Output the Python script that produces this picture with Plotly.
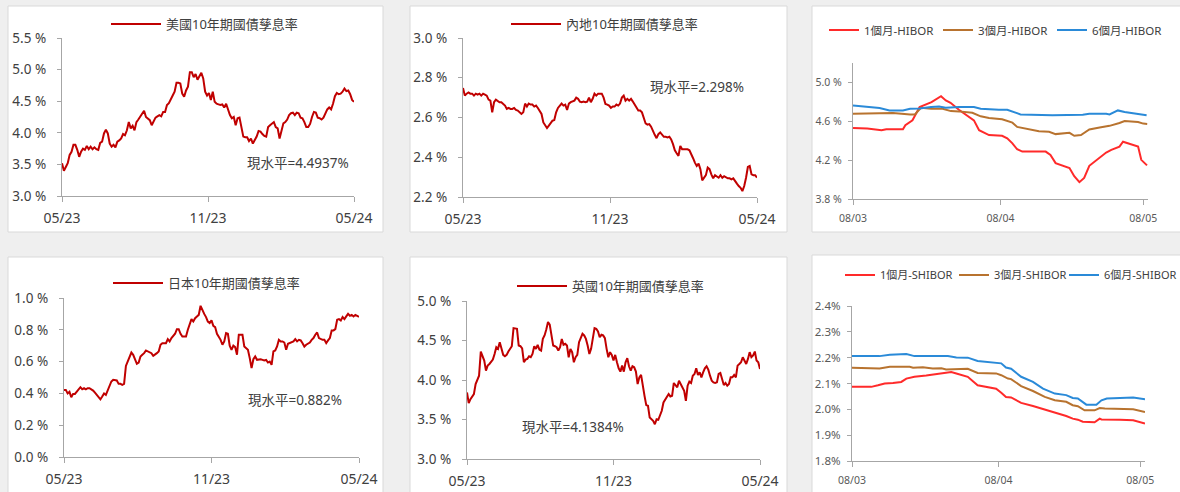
import pandas as pd
import plotly.graph_objects as go

# ---------------- data ----------------
bond_start, bond_end = "2023-05-10", "2024-05-10"
bond_tick_vals = ["2023-05-10", "2023-11-09", "2024-05-10"]
bond_tick_text = ["05/23", "11/23", "05/24"]

us_10y = [3.52,3.40,3.46,3.52,3.65,3.70,3.81,3.81,3.73,3.62,3.70,3.75,3.73,3.79,3.74,3.78,3.74,3.77,3.74,3.73,
          3.84,3.86,3.99,4.05,3.99,3.83,3.78,3.81,3.77,3.86,3.88,3.91,3.98,3.96,4.04,4.17,4.07,4.11,4.04,4.17,
          4.21,4.26,4.31,4.35,4.25,4.23,4.20,4.12,4.17,4.24,4.26,4.28,4.26,4.33,4.33,4.44,4.47,4.54,4.59,4.65,
          4.79,4.79,4.78,4.62,4.57,4.67,4.73,4.96,4.96,4.88,4.93,4.84,4.91,4.95,4.86,4.65,4.59,4.63,4.52,4.65,
          4.49,4.46,4.45,4.44,4.45,4.40,4.46,4.36,4.28,4.23,4.25,4.12,4.23,4.24,4.09,3.94,3.93,3.93,3.87,3.91,
          3.83,3.88,3.94,4.03,4.02,3.98,3.95,3.94,4.09,4.12,4.14,4.17,4.09,4.07,3.91,4.04,4.15,4.17,4.21,4.28,
          4.31,4.32,4.28,4.32,4.31,4.24,4.23,4.17,4.09,4.09,4.14,4.25,4.33,4.32,4.24,4.23,4.21,4.24,4.32,4.37,
          4.40,4.37,4.46,4.58,4.63,4.61,4.62,4.65,4.70,4.66,4.67,4.61,4.52,4.49]

cn_10y = [2.749,2.71,2.72,2.726,2.72,2.72,2.71,2.72,2.715,2.72,2.71,2.72,2.715,2.71,2.69,2.685,2.626,2.677,2.69,2.685,
          2.677,2.677,2.67,2.66,2.643,2.648,2.643,2.643,2.648,2.638,2.635,2.626,2.618,2.626,2.67,2.655,2.67,2.665,2.665,2.655,
          2.66,2.648,2.635,2.618,2.575,2.559,2.547,2.559,2.575,2.584,2.587,2.626,2.648,2.66,2.67,2.66,2.665,2.638,2.67,2.677,
          2.68,2.685,2.70,2.694,2.68,2.677,2.68,2.677,2.68,2.70,2.677,2.694,2.72,2.71,2.72,2.72,2.72,2.70,2.668,2.665,
          2.66,2.648,2.655,2.655,2.665,2.66,2.67,2.70,2.71,2.685,2.694,2.685,2.694,2.68,2.668,2.65,2.635,2.635,2.626,2.597,
          2.57,2.564,2.567,2.554,2.53,2.513,2.496,2.516,2.525,2.513,2.503,2.503,2.50,2.503,2.49,2.466,2.435,2.42,2.407,2.457,
          2.44,2.44,2.44,2.44,2.435,2.41,2.395,2.373,2.356,2.368,2.34,2.284,2.297,2.31,2.348,2.34,2.314,2.294,2.31,2.305,
          2.297,2.31,2.297,2.305,2.297,2.294,2.294,2.289,2.294,2.277,2.267,2.255,2.246,2.23,2.255,2.297,2.351,2.356,2.314,2.31,
          2.31,2.298]

jp_10y = [0.422,0.422,0.40,0.41,0.376,0.397,0.397,0.41,0.426,0.439,0.426,0.433,0.426,0.433,0.433,0.426,0.418,0.405,0.391,0.376,
          0.363,0.38,0.40,0.391,0.422,0.454,0.475,0.485,0.485,0.481,0.46,0.46,0.454,0.46,0.573,0.60,0.632,0.657,0.643,0.611,
          0.586,0.594,0.632,0.643,0.653,0.67,0.664,0.657,0.653,0.636,0.643,0.653,0.664,0.706,0.716,0.716,0.716,0.741,0.727,0.748,
          0.762,0.775,0.804,0.804,0.775,0.758,0.758,0.758,0.80,0.838,0.867,0.852,0.873,0.884,0.894,0.951,0.922,0.90,0.88,0.852,
          0.842,0.859,0.825,0.817,0.775,0.758,0.737,0.706,0.727,0.779,0.775,0.70,0.674,0.70,0.691,0.643,0.769,0.769,0.769,0.695,
          0.685,0.674,0.622,0.559,0.615,0.632,0.611,0.615,0.615,0.611,0.607,0.611,0.594,0.60,0.58,0.664,0.67,0.695,0.737,0.727,
          0.727,0.72,0.674,0.712,0.716,0.72,0.727,0.741,0.727,0.737,0.733,0.716,0.695,0.706,0.716,0.72,0.737,0.748,0.769,0.783,
          0.748,0.741,0.737,0.737,0.716,0.733,0.748,0.796,0.796,0.804,0.863,0.867,0.859,0.88,0.867,0.884,0.90,0.888,0.894,0.884,
          0.894,0.888,0.882]

uk_10y = [3.843,3.708,3.758,3.80,3.822,3.949,4.013,4.055,4.36,4.31,4.246,4.119,4.182,4.203,4.233,4.258,4.33,4.415,4.394,4.479,
          4.40,4.318,4.30,4.318,4.36,4.40,4.428,4.657,4.648,4.648,4.436,4.428,4.40,4.225,4.258,4.267,4.30,4.288,4.33,4.428,
          4.394,4.445,4.386,4.373,4.52,4.564,4.64,4.733,4.70,4.572,4.436,4.428,4.415,4.373,4.415,4.52,4.445,4.458,4.436,4.288,
          4.394,4.352,4.225,4.288,4.318,4.479,4.53,4.585,4.564,4.52,4.436,4.33,4.394,4.52,4.657,4.648,4.614,4.542,4.572,4.564,
          4.53,4.394,4.288,4.352,4.318,4.246,4.318,4.225,4.148,4.106,4.182,4.106,4.225,4.275,4.174,4.119,4.174,4.161,4.106,3.949,
          4.034,4.064,3.907,3.80,3.682,3.673,3.525,3.504,3.483,3.44,3.504,3.496,3.547,3.61,3.716,3.758,3.78,3.822,3.792,3.80,
          3.962,3.936,3.907,3.991,3.949,3.907,3.864,3.737,3.928,3.979,3.962,4.055,4.076,4.148,4.064,4.097,4.034,4.097,4.148,4.174,
          4.131,4.055,3.991,3.97,3.962,3.97,4.076,4.089,3.991,3.936,3.962,3.928,3.949,4.034,4.034,4.064,4.034,4.182,4.203,4.225,
          4.288,4.246,4.203,4.267,4.352,4.288,4.31,4.36,4.246,4.225,4.138]

rate_start, rate_end = "2024-03-08", "2024-05-09"
rate_tick_vals = ["2024-03-08", "2024-04-08", "2024-05-08"]
rate_tick_text = ["08/03", "08/04", "08/05"]

hibor_1m_dates = ["2024-03-08","2024-03-11","2024-03-14","2024-03-15","2024-03-18 12:00","2024-03-19","2024-03-20 12:00",
                  "2024-03-22","2024-03-24 12:00","2024-03-26 12:00","2024-03-27 12:00","2024-03-28 12:00","2024-03-30 06:00",
                  "2024-04-02 10:00","2024-04-03 12:00","2024-04-05 14:00","2024-04-08 08:00","2024-04-09 10:00","2024-04-10 12:00",
                  "2024-04-11 12:00","2024-04-12 14:00","2024-04-17 12:00","2024-04-18 12:00","2024-04-19 14:00","2024-04-22 12:00",
                  "2024-04-23 12:00","2024-04-24 14:00","2024-04-25 14:00","2024-04-26 16:00","2024-04-28 20:00","2024-04-30 05:00",
                  "2024-05-01 07:00","2024-05-03","2024-05-03 18:00","2024-05-06 22:00","2024-05-07 14:00","2024-05-08 19:00"]
hibor_1m = [4.532,4.525,4.508,4.519,4.519,4.56,4.61,4.746,4.797,4.858,4.814,4.79,4.719,4.61,4.508,4.458,4.451,4.424,4.373,
            4.312,4.288,4.288,4.254,4.169,4.119,4.034,3.973,4.017,4.142,4.22,4.278,4.305,4.339,4.39,4.339,4.203,4.146]

hibor_3m_dates = ["2024-03-08","2024-03-15","2024-03-16 10:00","2024-03-20","2024-03-21","2024-03-22 07:00","2024-03-24 10:00",
                  "2024-03-26 20:00","2024-03-28 14:00","2024-03-30 07:00","2024-04-02 02:00","2024-04-03 20:00","2024-04-05 14:00",
                  "2024-04-08 08:00","2024-04-10 12:00","2024-04-11 12:00","2024-04-14","2024-04-16 02:00","2024-04-18 05:00",
                  "2024-04-19 14:00","2024-04-22 12:00","2024-04-23 12:00","2024-04-24 22:00","2024-04-26 16:00","2024-04-28 20:00",
                  "2024-04-30 22:00","2024-05-03","2024-05-04 02:00","2024-05-06 22:00","2024-05-08","2024-05-08 20:00"]
hibor_3m = [4.678,4.678,4.685,4.671,4.671,4.739,4.729,4.729,4.705,4.702,4.688,4.651,4.634,4.62,4.586,4.542,4.515,4.498,4.492,
            4.468,4.481,4.451,4.458,4.515,4.536,4.553,4.583,4.603,4.593,4.576,4.573]

hibor_6m_dates = ["2024-03-08","2024-03-13 14:00","2024-03-15 16:00","2024-03-18 12:00","2024-03-20","2024-03-22","2024-03-24 10:00",
                  "2024-03-26 02:00","2024-03-27 12:00","2024-03-30 07:00","2024-04-02 10:00","2024-04-03 20:00","2024-04-07 16:00",
                  "2024-04-09 10:00","2024-04-12 05:00","2024-04-18 22:00","2024-04-25 07:00","2024-04-26 16:00","2024-04-30 05:00",
                  "2024-04-30 22:00","2024-05-02 16:00","2024-05-04 02:00","2024-05-08 17:00"]
hibor_6m = [4.763,4.736,4.712,4.712,4.729,4.732,4.746,4.753,4.739,4.746,4.746,4.729,4.719,4.719,4.671,4.661,4.668,4.678,4.678,
            4.671,4.712,4.695,4.661]

shibor_1m_dates = ["2024-03-08","2024-03-12 02:00","2024-03-13 12:00","2024-03-14 22:00","2024-03-16 16:00","2024-03-18 10:00",
                   "2024-03-19 12:00","2024-03-21 05:00","2024-03-23 17:00","2024-03-25 20:00","2024-03-27 22:00","2024-03-29",
                   "2024-03-30 02:00","2024-04-01 12:00","2024-04-03 14:00","2024-04-05 10:00","2024-04-07 12:00","2024-04-08 14:00",
                   "2024-04-09 14:00","2024-04-10 16:00","2024-04-12 19:00","2024-04-15 07:00","2024-04-17 19:00","2024-04-18 19:00",
                   "2024-04-20 05:00","2024-04-22 08:00","2024-04-23 17:00","2024-04-24 19:00","2024-04-25 20:00","2024-04-28 08:00",
                   "2024-04-29 10:00","2024-04-29 19:00","2024-05-03 17:00","2024-05-06 12:00","2024-05-09"]
shibor_1m = [2.087,2.087,2.093,2.10,2.102,2.106,2.119,2.126,2.131,2.136,2.141,2.144,2.139,2.126,2.093,2.087,2.080,2.064,
             2.048,2.046,2.025,2.013,1.999,1.996,1.987,1.974,1.964,1.96,1.952,1.95,1.964,1.961,1.96,1.958,1.945]

shibor_3m_dates = ["2024-03-08","2024-03-13 20:00","2024-03-16","2024-03-20 05:00","2024-03-20 22:00","2024-03-23","2024-03-25 02:00",
                   "2024-03-26 22:00","2024-03-27 22:00","2024-04-01 12:00","2024-04-03 14:00","2024-04-07 12:00","2024-04-08 14:00",
                   "2024-04-10","2024-04-10 16:00","2024-04-12 19:00","2024-04-15 07:00","2024-04-17 19:00","2024-04-19 22:00",
                   "2024-04-22 08:00","2024-04-23 17:00","2024-04-24 19:00","2024-04-26 05:00","2024-04-28 08:00","2024-04-29 10:00",
                   "2024-04-30 12:00","2024-05-06 12:00","2024-05-09"]
shibor_3m = [2.161,2.158,2.165,2.165,2.161,2.163,2.158,2.159,2.154,2.157,2.141,2.139,2.132,2.119,2.117,2.09,2.071,2.048,
             2.035,2.029,2.016,2.012,1.996,1.996,2.005,2.003,2.0,1.99]

shibor_6m_dates = ["2024-03-08","2024-03-13 20:00","2024-03-16","2024-03-19 12:00","2024-03-21 05:00","2024-03-28 07:00",
                   "2024-03-30 02:00","2024-04-01 12:00","2024-04-03 14:00","2024-04-07 12:00","2024-04-08 14:00","2024-04-09 14:00",
                   "2024-04-10 16:00","2024-04-12 19:00","2024-04-15 07:00","2024-04-17 10:00","2024-04-19 22:00","2024-04-22 08:00",
                   "2024-04-23 17:00","2024-04-24 19:00","2024-04-26 14:00","2024-04-28 17:00","2024-04-29 19:00","2024-04-30 22:00",
                   "2024-05-06 12:00","2024-05-09"]
shibor_6m = [2.206,2.206,2.211,2.214,2.206,2.206,2.201,2.20,2.187,2.18,2.178,2.162,2.157,2.126,2.106,2.08,2.061,2.055,
             2.044,2.042,2.018,2.018,2.035,2.042,2.046,2.039]

# ---------------- styling ----------------
W, H = 1180, 492
FONT = "Noto Sans, Noto Sans CJK TC, sans-serif"
TXT = "#404040"
AXIS = "#a6a6a6"
PAGE_BG = "#efefef"
BOND_RED = "#c00000"
C_1M, C_3M, C_6M = "#ff2a2a", "#b8732f", "#2a8ad8"


def px_x(v):
    return v / W


def px_y(v):
    return 1 - v / H


fig = go.Figure()

# panel backgrounds
panels = [(8, 6, 383, 232), (410, 6, 787, 232), (812, 6, 1185, 232),
          (8, 257, 383, 497), (410, 257, 787, 497), (812, 255, 1185, 497)]
for (x0, y0, x1, y1) in panels:
    fig.add_shape(type="rect", xref="paper", yref="paper", layer="below",
                  x0=px_x(x0), x1=px_x(x1), y0=px_y(y1), y1=px_y(y0),
                  fillcolor="white", line=dict(color="#d9d9d9", width=1))

axes_cfg = {
    1: dict(xd=(62, 354), yd=(38, 196), yr=[3.0, 5.5], dt=0.5, suf=" %", kind="bond"),
    2: dict(xd=(463, 757), yd=(38, 197), yr=[2.2, 3.0], dt=0.2, suf=" %", kind="bond"),
    3: dict(xd=(853, 1148), yd=(63, 199), yr=[3.8, 5.2], dt=0.4, suf=" %", kind="hibor"),
    4: dict(xd=(64, 359), yd=(298, 457), yr=[0.0, 1.0], dt=0.2, suf=" %", kind="bond"),
    5: dict(xd=(467, 760), yd=(301, 459), yr=[3.0, 5.0], dt=0.5, suf=" %", kind="bond"),
    6: dict(xd=(852, 1145), yd=(306, 461), yr=[1.8, 2.4], dt=0.1, suf="%", kind="shibor"),
}
# per kind: (y tick size, x tick size, tick colour, y standoff, x standoff)
kind_style = {"bond": (13.5, 14, TXT, 8, 4),
              "hibor": (10.5, 10.5, "#595959", 4, 4),
              "shibor": (11.5, 10.5, "#595959", 4, 4)}

layout_axes = {}
for i, c in axes_cfg.items():
    xs = "" if i == 1 else str(i)
    bond = c["kind"] == "bond"
    yfs, xfs, fc, ysd, xsd = kind_style[c["kind"]]
    layout_axes["xaxis" + xs] = dict(
        domain=[px_x(c["xd"][0]), px_x(c["xd"][1])], anchor="y" + xs, type="date",
        range=[bond_start, bond_end] if bond else [rate_start, rate_end],
        tickmode="array",
        tickvals=bond_tick_vals if bond else rate_tick_vals,
        ticktext=bond_tick_text if bond else rate_tick_text,
        ticks="outside", ticklen=5, tickcolor=AXIS, showline=True, linecolor=AXIS, linewidth=1.3,
        showgrid=False, zeroline=False, ticklabelstandoff=xsd,
        tickfont=dict(family=FONT, size=xfs, color=fc),
    )
    layout_axes["yaxis" + xs] = dict(
        domain=[px_y(c["yd"][1]), px_y(c["yd"][0])], anchor="x" + xs,
        range=c["yr"], tick0=c["yr"][0], dtick=c["dt"], tickformat=".1f", ticksuffix=c["suf"],
        ticks="outside", ticklen=4, tickcolor=AXIS, showline=True, linecolor=AXIS, linewidth=1.3,
        showgrid=False, zeroline=False, ticklabelstandoff=ysd,
        tickfont=dict(family=FONT, size=yfs, color=fc),
    )

bond_series = [("美國10年期國債孳息率", us_10y, "", "legend"),
               ("內地10年期國債孳息率", cn_10y, "2", "legend2"),
               ("日本10年期國債孳息率", jp_10y, "4", "legend6"),
               ("英國10年期國債孳息率", uk_10y, "5", "legend7")]
for name, vals, ax, lg in bond_series:
    fig.add_trace(go.Scatter(x=pd.date_range(bond_start, bond_end, periods=len(vals)), y=vals,
                             mode="lines", name=name, line=dict(color=BOND_RED, width=2),
                             xaxis="x" + ax, yaxis="y" + ax, legend=lg))

rate_series = [("1個月-HIBOR", hibor_1m_dates, hibor_1m, C_1M, "3", "legend3"),
               ("3個月-HIBOR", hibor_3m_dates, hibor_3m, C_3M, "3", "legend4"),
               ("6個月-HIBOR", hibor_6m_dates, hibor_6m, C_6M, "3", "legend5"),
               ("1個月-SHIBOR", shibor_1m_dates, shibor_1m, C_1M, "6", "legend8"),
               ("3個月-SHIBOR", shibor_3m_dates, shibor_3m, C_3M, "6", "legend9"),
               ("6個月-SHIBOR", shibor_6m_dates, shibor_6m, C_6M, "6", "legend10")]
for name, dates, vals, col, ax, lg in rate_series:
    fig.add_trace(go.Scatter(x=dates, y=vals, mode="lines", name=name,
                             line=dict(color=col, width=2),
                             xaxis="x" + ax, yaxis="y" + ax, legend=lg))

# legends: (text-left px, centre-y px, font size, symbol width)
legend_pos = {
    "legend": (166, 24, 13, 50), "legend2": (566, 24, 13, 50),
    "legend3": (864, 30, 11.5, 30), "legend4": (978, 30, 11.5, 30), "legend5": (1092, 30, 11.5, 30),
    "legend6": (168, 283, 13, 50), "legend7": (572, 286, 13, 50),
    "legend8": (880, 275, 11, 30), "legend9": (994, 275, 11, 30), "legend10": (1104, 275, 11, 30),
}
legends = {}
for k, (tx, ty, fs, iw) in legend_pos.items():
    legends[k] = dict(x=px_x(tx - iw - 10), y=px_y(ty), xanchor="left", yanchor="middle",
                      itemwidth=iw, bgcolor="rgba(0,0,0,0)", borderwidth=0,
                      font=dict(family=FONT, size=fs, color=TXT))

annotations = []
notes = [("現水平=4.4937%", 245, 163), ("現水平=2.298%", 648, 87),
         ("現水平=0.882%", 246, 400), ("現水平=4.1384%", 520, 427)]
for text, ax_, ay_ in notes:
    annotations.append(dict(text=text, xref="paper", yref="paper", x=px_x(ax_), y=px_y(ay_),
                            xanchor="left", yanchor="middle", showarrow=False,
                            font=dict(family=FONT, size=13.5, color=TXT)))

fig.update_layout(width=W, height=H, autosize=False,
                  margin=dict(l=0, r=0, t=0, b=0, autoexpand=False),
                  paper_bgcolor=PAGE_BG, plot_bgcolor="white", showlegend=True,
                  annotations=annotations, **layout_axes, **legends)

fig.write_html("out.html", config={"displayModeBar": False},
               post_script="document.body.style.margin='0';document.body.style.background='%s';" % PAGE_BG)
